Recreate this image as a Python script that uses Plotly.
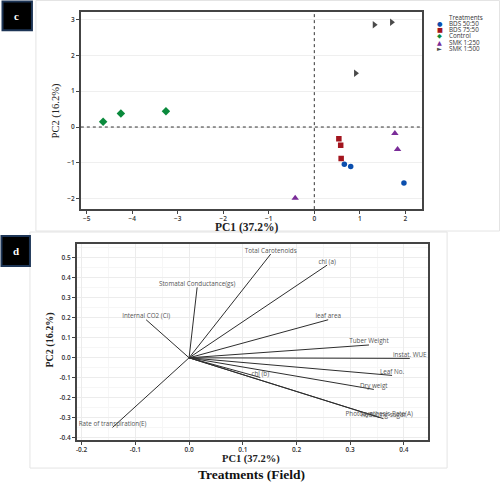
import plotly.graph_objects as go

W, H = 500, 484

# ---------------- Panel c : PCA scores ----------------
treatments = ["BDS 50:50", "BDS 75:50", "Control", "SMK 1:250", "SMK 1:500"]
pc1_scores = {
    "BDS 50:50": [0.66, 0.80, 1.97],
    "BDS 75:50": [0.54, 0.58, 0.59],
    "Control": [-4.64, -4.25, -3.26],
    "SMK 1:250": [1.77, 1.83, -0.42],
    "SMK 1:500": [1.32, 1.70, 0.91],
}
pc2_scores = {
    "BDS 50:50": [-1.04, -1.10, -1.56],
    "BDS 75:50": [-0.33, -0.51, -0.88],
    "Control": [0.15, 0.38, 0.44],
    "SMK 1:250": [-0.175, -0.62, -1.98],
    "SMK 1:500": [2.85, 2.92, 1.50],
}
c_xticks = [-5, -4, -3, -2, -1, 0, 1, 2]
c_yticks = [-2, -1, 0, 1, 2, 3]

# ---------------- Panel d : loadings ----------------
variables = ["Total Carotenoids", "chl (a)", "leaf area", "Tuber Weight", "instat. WUE",
             "Leaf No.", "Dry weigt", "Photosynthesis Rate(A)", "Reducing sugar", "chl (b)",
             "Stomatal Conductance(gs)", "Internal CO2 (Ci)", "Rate of transpiration(E)"]
load_pc1 = [0.152, 0.257, 0.259, 0.335, 0.411, 0.378, 0.344, 0.354, 0.362, 0.1325, 0.015, -0.080, -0.1426]
load_pc2 = [0.518, 0.463, 0.190, 0.064, -0.003, -0.088, -0.158, -0.298, -0.304, -0.098, 0.352, 0.190, -0.348]
d_xticks = [-0.2, -0.1, 0.0, 0.1, 0.2, 0.3, 0.4]
d_yticks = [-0.4, -0.3, -0.2, -0.1, 0.0, 0.1, 0.2, 0.3, 0.4, 0.5]

styles = {
    "BDS 50:50": dict(symbol="circle", color="#0b4fae", size=5.5),
    "BDS 75:50": dict(symbol="square", color="#a3151e", size=5.5),
    "Control": dict(symbol="diamond", color="#0a8a3c", size=6.5),
    "SMK 1:250": dict(symbol="triangle-up", color="#7a2c98", size=6.5),
    "SMK 1:500": dict(symbol="triangle-right", color="#4a4a4a", size=6.5),
}
legend_glyph = {"BDS 50:50": "●", "BDS 75:50": "■", "Control": "◆",
                "SMK 1:250": "▲", "SMK 1:500": "►"}


def px(x):
    return x / W


def py(y):
    return 1 - y / H


fig = go.Figure()

for t in treatments:
    s = styles[t]
    fig.add_trace(go.Scatter(
        x=pc1_scores[t], y=pc2_scores[t], mode="markers", name=t,
        marker=dict(symbol=s["symbol"], color=s["color"], size=s["size"], line=dict(width=0)),
        xaxis="x", yaxis="y", showlegend=False))

for v, a, b in zip(variables, load_pc1, load_pc2):
    fig.add_trace(go.Scatter(
        x=[0, a], y=[0, b], mode="lines+text", text=["", v], textposition="top center",
        textfont=dict(family="Open Sans", size=6.3, color="#555555"),
        line=dict(color="#2e2e2e", width=1), xaxis="x2", yaxis="y2", showlegend=False))

tickfont = dict(family="Open Sans", size=6.5, color="#333333", weight=600)
axis_common = dict(showline=True, linecolor="#444444", linewidth=1.5, mirror=True,
                   ticks="outside", ticklen=3, tickcolor="#444444", tickwidth=1,
                   tickfont=tickfont, zeroline=False)

fig.update_layout(
    width=W, height=H, margin=dict(l=0, r=0, t=0, b=0),
    paper_bgcolor="white", plot_bgcolor="white", showlegend=False,
    xaxis=dict(domain=[px(80), px(422)], range=[-5.13, 2.37], tickvals=c_xticks,
               showgrid=False, anchor="y", ticklabelstandoff=-1, **axis_common),
    yaxis=dict(domain=[py(210), py(12)], range=[-2.29, 3.21], tickvals=c_yticks,
               showgrid=True, gridcolor="#efefef", gridwidth=1, anchor="x", **axis_common),
    xaxis2=dict(domain=[px(76), px(427.7)], range=[-0.209, 0.4446], tickvals=d_xticks,
                ticktext=[f"{v:.1f}" for v in d_xticks], ticklabelstandoff=-1,
                showgrid=True, gridcolor="#ececec", anchor="y2",
                minor=dict(dtick=0.05, showgrid=True, gridcolor="#f6f6f6"), **axis_common),
    yaxis2=dict(domain=[py(442.3), py(244.7)], range=[-0.413, 0.57], tickvals=d_yticks,
                ticktext=[f"{v:.1f}" for v in d_yticks],
                showgrid=True, gridcolor="#ececec", anchor="x2",
                minor=dict(dtick=0.05, showgrid=True, gridcolor="#f6f6f6"), **axis_common),
)

shapes = [
    # faint panel frames
    dict(type="rect", xref="paper", yref="paper", x0=px(35), x1=px(499.5), y0=py(232), y1=py(0.5),
         line=dict(color="#e4e4e4", width=1), layer="below"),
    dict(type="rect", xref="paper", yref="paper", x0=px(29), x1=px(447), y0=py(470), y1=py(233),
         line=dict(color="#e4e4e4", width=1), layer="below"),
    # dotted zero lines in panel c
    dict(type="line", xref="x", yref="y domain", x0=0, x1=0, y0=0, y1=1,
         line=dict(color="#333333", width=1, dash="dot")),
    dict(type="line", xref="x domain", yref="y", x0=0, x1=1, y0=0, y1=0,
         line=dict(color="#333333", width=1, dash="dot")),
    # panel label boxes
    dict(type="rect", xref="paper", yref="paper", x0=px(1.5), x1=px(31), y0=py(30.5), y1=py(1.5),
         fillcolor="black", line=dict(color="#1d3556", width=2)),
    dict(type="rect", xref="paper", yref="paper", x0=px(0.5), x1=px(29), y0=py(267), y1=py(237),
         fillcolor="black", line=dict(color="#1d3556", width=2)),
]

serif = "Liberation Serif"
annotations = [
    dict(text="<b>c</b>", x=px(16), y=py(16.5), font=dict(family=serif, size=11, color="white")),
    dict(text="<b>d</b>", x=px(15), y=py(252), font=dict(family=serif, size=11, color="white")),
    dict(text="<b>PC1 (37.2%)</b>", x=px(246), y=py(228.5), font=dict(family=serif, size=11.5, color="#222222")),
    dict(text="PC2 (16.2%)", x=px(55), y=py(111), textangle=-90,
         font=dict(family=serif, size=10.5, color="#222222")),
    dict(text="<b>PC1 (37.2%)</b>", x=px(251), y=py(460.5), font=dict(family=serif, size=10.5, color="#222222")),
    dict(text="<b>PC2 (16.2%)</b>", x=px(49), y=py(341), textangle=-90,
         font=dict(family=serif, size=10, color="#222222")),
    dict(text="<b>Treatments (Field)</b>", x=px(251), y=py(476), font=dict(family=serif, size=13.5, color="#111111")),
    dict(text="Treatments", x=px(446.5), y=py(17.3), xanchor="left",
         font=dict(family="Open Sans", size=6.3, color="#333333")),
]
row_y = [23.5, 29.8, 36.1, 42.4, 48.7]
for t, yy in zip(treatments, row_y):
    annotations.append(dict(text=legend_glyph[t], x=px(439.5), y=py(yy),
                            font=dict(family="DejaVu Sans", size=6.3, color=styles[t]["color"])))
    annotations.append(dict(text=t, x=px(446.5), y=py(yy), xanchor="left",
                            font=dict(family="Open Sans", size=6.3, color="#333333")))

for a in annotations:
    a.setdefault("xref", "paper")
    a.setdefault("yref", "paper")
    a.setdefault("showarrow", False)
    a.setdefault("xanchor", "center")
    a.setdefault("yanchor", "middle")

fig.update_layout(shapes=shapes, annotations=annotations)
fig.write_html("out.html", config={"displayModeBar": False},
               post_script="document.body.style.margin='0';document.body.style.padding='0';"
                           "document.body.style.overflow='hidden';")
